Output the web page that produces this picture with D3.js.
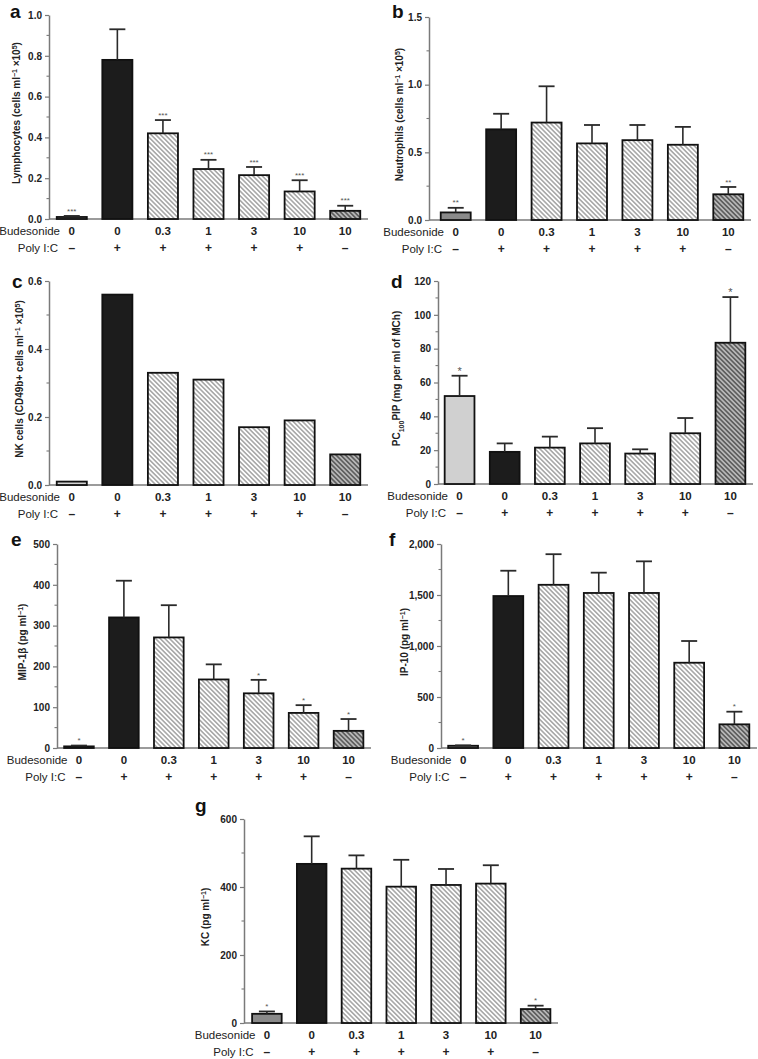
<!DOCTYPE html>
<html><head><meta charset="utf-8">
<script src="https://cdn.jsdelivr.net/npm/d3@7"></script>
<style>body{margin:0;background:#fff;} svg{display:block;font-family:"Liberation Sans",Arial,sans-serif;}</style>
</head><body><svg id="chart" width="758" height="1059"></svg>
<script>
// ---------- data ----------
const budesonide = ["0","0","0.3","1","3","10","10"];
const polyIC = ["\u2013","+","+","+","+","+","\u2013"];

const lymphocytes      = [0.01, 0.78, 0.42, 0.245, 0.215, 0.135, 0.04];
const lymphocytesErr   = [0.005, 0.15, 0.065, 0.045, 0.04, 0.055, 0.025];
const lymphocytesStars = ["***","","***","***","***","***","***"];
const lymphocyteTicks  = [0, 0.2, 0.4, 0.6, 0.8, 1.0];

const neutrophils      = [0.056, 0.67, 0.72, 0.566, 0.59, 0.556, 0.19];
const neutrophilsErr   = [0.034, 0.115, 0.268, 0.136, 0.112, 0.132, 0.054];
const neutrophilsStars = ["**","","","","","","**"];
const neutrophilTicks  = [0, 0.5, 1.0, 1.5];

const nkCells          = [0.01, 0.56, 0.33, 0.31, 0.17, 0.19, 0.09];
const nkTicks          = [0, 0.2, 0.4, 0.6];

const pc100            = [52, 19, 21.5, 24, 18, 30, 83.5];
const pc100Err         = [12, 5, 6.5, 9, 2.5, 9, 27];
const pc100Stars       = ["*","","","","","","*"];
const pc100Ticks       = [0, 20, 40, 60, 80, 100, 120];

const mip1b            = [4, 320, 271, 168, 134, 86, 42];
const mip1bErr         = [2, 90, 79, 37, 33, 19, 29];
const mip1bStars       = ["*","","","","*","*","*"];
const mip1bTicks       = [0, 100, 200, 300, 400, 500];

const ip10             = [22, 1490, 1600, 1520, 1520, 836, 232];
const ip10Err          = [4, 248, 300, 199, 310, 213, 124];
const ip10Stars        = ["*","","","","","","*"];
const ip10Ticks        = [0, 500, 1000, 1500, 2000];

const kc               = [27, 468, 454, 401, 406, 410, 41];
const kcErr            = [7, 81, 39, 79, 47, 54, 10];
const kcStars          = ["*","","","","","","*"];
const kcTicks          = [0, 200, 400, 600];

// ---------- layout ----------
const panels = [
  {letter:"a", lx:10, ly:18, values:lymphocytes, err:lymphocytesErr, stars:lymphocytesStars, ticks:lymphocyteTicks, fmt:".1f",
   axisX:49, bandStart:49, bandEnd:368, top:15, bottom:219, titleX:16, bar0:"#8a8a8a", starSize:8,
   title:[["Lymphocytes (cells ml",0],["\u22121",1],[" \u00d710",0],["5",1],[")",0]]},
  {letter:"b", lx:392, ly:18, values:neutrophils, err:neutrophilsErr, stars:neutrophilsStars, ticks:neutrophilTicks, fmt:".1f",
   axisX:429, bandStart:433, bandEnd:751, top:17, bottom:220, titleX:399, bar0:"#8a8a8a", starSize:8,
   title:[["Neutrophils (cells ml",0],["\u22121",1],[" \u00d710",0],["5",1],[")",0]]},
  {letter:"c", lx:12, ly:288, values:nkCells, err:null, stars:null, ticks:nkTicks, fmt:".1f",
   axisX:49, bandStart:49, bandEnd:368, top:281, bottom:485, titleX:19, bar0:"#d4d4d4", starSize:8,
   title:[["NK cells (CD49b+ cells ml",0],["\u22121",1],[" \u00d710",0],["5",1],[")",0]]},
  {letter:"d", lx:391, ly:288, values:pc100, err:pc100Err, stars:pc100Stars, ticks:pc100Ticks, fmt:"d",
   axisX:438, bandStart:437, bandEnd:753, top:281, bottom:484, titleX:396, bar0:"#d0d0d0", starSize:11,
   title:[["PC",0],["100",-1],["PIP (mg per ml of MCh)",0]]},
  {letter:"e", lx:11, ly:546, values:mip1b, err:mip1bErr, stars:mip1bStars, ticks:mip1bTicks, fmt:"d",
   axisX:57, bandStart:56.5, bandEnd:371, top:544, bottom:748, titleX:22, bar0:"#8a8a8a", starSize:8,
   title:[["MIP-1\u03b2 (pg ml",0],["\u22121",1],[")",0]]},
  {letter:"f", lx:389, ly:546, values:ip10, err:ip10Err, stars:ip10Stars, ticks:ip10Ticks, fmt:",d",
   axisX:441, bandStart:440.5, bandEnd:757, top:544, bottom:748, titleX:404, bar0:"#8a8a8a", starSize:8,
   title:[["IP-10 (pg ml",0],["\u22121",1],[")",0]]},
  {letter:"g", lx:195, ly:812, values:kc, err:kcErr, stars:kcStars, ticks:kcTicks, fmt:"d",
   axisX:244, bandStart:244.5, bandEnd:558, top:819, bottom:1023, titleX:205, bar0:"#8a8a8a", starSize:8,
   title:[["KC (pg ml",0],["\u22121",1],[")",0]]}
];

const svg = d3.select("#chart");
const defs = svg.append("defs");
function hatch(id, bg, fg, w) {
  const s = 3.3;
  const p = defs.append("pattern").attr("id", id).attr("patternUnits","userSpaceOnUse")
    .attr("width", s).attr("height", s).attr("patternTransform","rotate(45)");
  p.append("rect").attr("width", s).attr("height", s).attr("fill", bg);
  p.append("line").attr("x1",0).attr("x2",s).attr("y1",s/2).attr("y2",s/2)
    .attr("stroke", fg).attr("stroke-width", w);
}
hatch("hl", "#ffffff", "#7a7a7a", 1.05);
hatch("hd", "#b8b8b8", "#3c3c3c", 1.2);

const axisColor = "#7a7a7a";

panels.forEach(p => {
  const g = svg.append("g");
  const n = p.values.length;
  const x = d3.scaleBand().domain(d3.range(n)).range([p.bandStart, p.bandEnd])
    .paddingInner(0.34).paddingOuter(0.17);
  const maxV = p.ticks[p.ticks.length - 1];
  const y = d3.scaleLinear().domain([0, maxV]).range([p.bottom, p.top]);
  const step = p.ticks[1] - p.ticks[0];
  const minors = d3.range(step / 2, maxV, step);

  // y axis
  const ax = g.append("g").attr("transform", `translate(${p.axisX},0)`)
    .call(d3.axisLeft(y).tickValues(p.ticks).tickSize(4).tickSizeOuter(0).tickPadding(3)
      .tickFormat(d3.format(p.fmt)));
  ax.select(".domain").attr("stroke", axisColor).attr("stroke-width", 1.5);
  ax.selectAll(".tick line").attr("stroke", axisColor).attr("stroke-width", 1.2);
  ax.selectAll(".tick text").attr("fill", "#222").attr("font-size", 10).attr("font-weight", "bold")
    .attr("font-family", '"Liberation Sans",Arial,sans-serif');
  g.selectAll(".minor").data(minors).enter().append("line")
    .attr("x1", p.axisX - 2.5).attr("x2", p.axisX)
    .attr("y1", d => y(d)).attr("y2", d => y(d))
    .attr("stroke", axisColor).attr("stroke-width", 1.1);

  // x axis line
  g.append("line").attr("x1", p.axisX).attr("x2", p.bandEnd)
    .attr("y1", y(0)).attr("y2", y(0)).attr("stroke", axisColor).attr("stroke-width", 1.5);

  // bars
  const fillFor = i => i === 0 ? p.bar0 : i === 1 ? "#1c1c1c" : i === n - 1 ? "url(#hd)" : "url(#hl)";
  g.selectAll(".bar").data(p.values).enter().append("rect")
    .attr("x", (d, i) => x(i)).attr("width", x.bandwidth())
    .attr("y", d => y(d)).attr("height", d => y(0) - y(d))
    .attr("fill", (d, i) => fillFor(i)).attr("stroke", "#111").attr("stroke-width", 1.8);

  // error bars
  if (p.err) {
    const cap = 8;
    p.values.forEach((v, i) => {
      const cx = x(i) + x.bandwidth() / 2;
      const yTop = y(v + p.err[i]);
      g.append("line").attr("x1", cx).attr("x2", cx).attr("y1", y(v)).attr("y2", yTop)
        .attr("stroke", "#2a2a2a").attr("stroke-width", 1.6);
      g.append("line").attr("x1", cx - cap).attr("x2", cx + cap).attr("y1", yTop).attr("y2", yTop)
        .attr("stroke", "#2a2a2a").attr("stroke-width", 1.8);
      if (p.stars && p.stars[i]) {
        g.append("text").attr("x", cx).attr("y", yTop - 7 + 0.58 * p.starSize)
          .attr("text-anchor", "middle").attr("font-size", p.starSize)
          .attr("fill", "#555").text(p.stars[i]);
      }
    });
  }

  // category rows
  g.append("text").attr("x", p.bandStart + 11).attr("y", p.bottom + 16).attr("text-anchor", "end")
    .attr("font-size", 11.5).attr("fill", "#222").text("Budesonide");
  g.append("text").attr("x", p.bandStart + 9).attr("y", p.bottom + 33).attr("text-anchor", "end")
    .attr("font-size", 11.5).attr("fill", "#222").text("Poly I:C");
  g.selectAll(".bud").data(budesonide).enter().append("text")
    .attr("x", (d, i) => x(i) + x.bandwidth() / 2).attr("y", p.bottom + 16)
    .attr("text-anchor", "middle").attr("font-size", 11.5).attr("font-weight", "bold").attr("fill", "#222")
    .text(d => d);
  g.selectAll(".pic").data(polyIC).enter().append("text")
    .attr("x", (d, i) => x(i) + x.bandwidth() / 2).attr("y", p.bottom + 33)
    .attr("text-anchor", "middle").attr("font-size", 12).attr("font-weight", "bold").attr("fill", "#222")
    .text(d => d);

  // y title
  const t = g.append("text")
    .attr("transform", `translate(${p.titleX},${(p.top + p.bottom) / 2 - 4}) rotate(-90)`)
    .attr("text-anchor", "middle").attr("dy", "0.35em")
    .attr("font-size", 10).attr("font-weight", "bold").attr("fill", "#222");
  p.title.forEach(([s, k]) => {
    const ts = t.append("tspan").text(s);
    if (k === 1) ts.attr("font-size", 7).attr("baseline-shift", "super");
    if (k === -1) ts.attr("font-size", 7).attr("baseline-shift", "sub");
  });

  // panel letter
  g.append("text").attr("x", p.lx).attr("y", p.ly).attr("font-size", 19).attr("font-weight", "bold")
    .attr("fill", "#111").text(p.letter);
});
</script>
</body></html>
